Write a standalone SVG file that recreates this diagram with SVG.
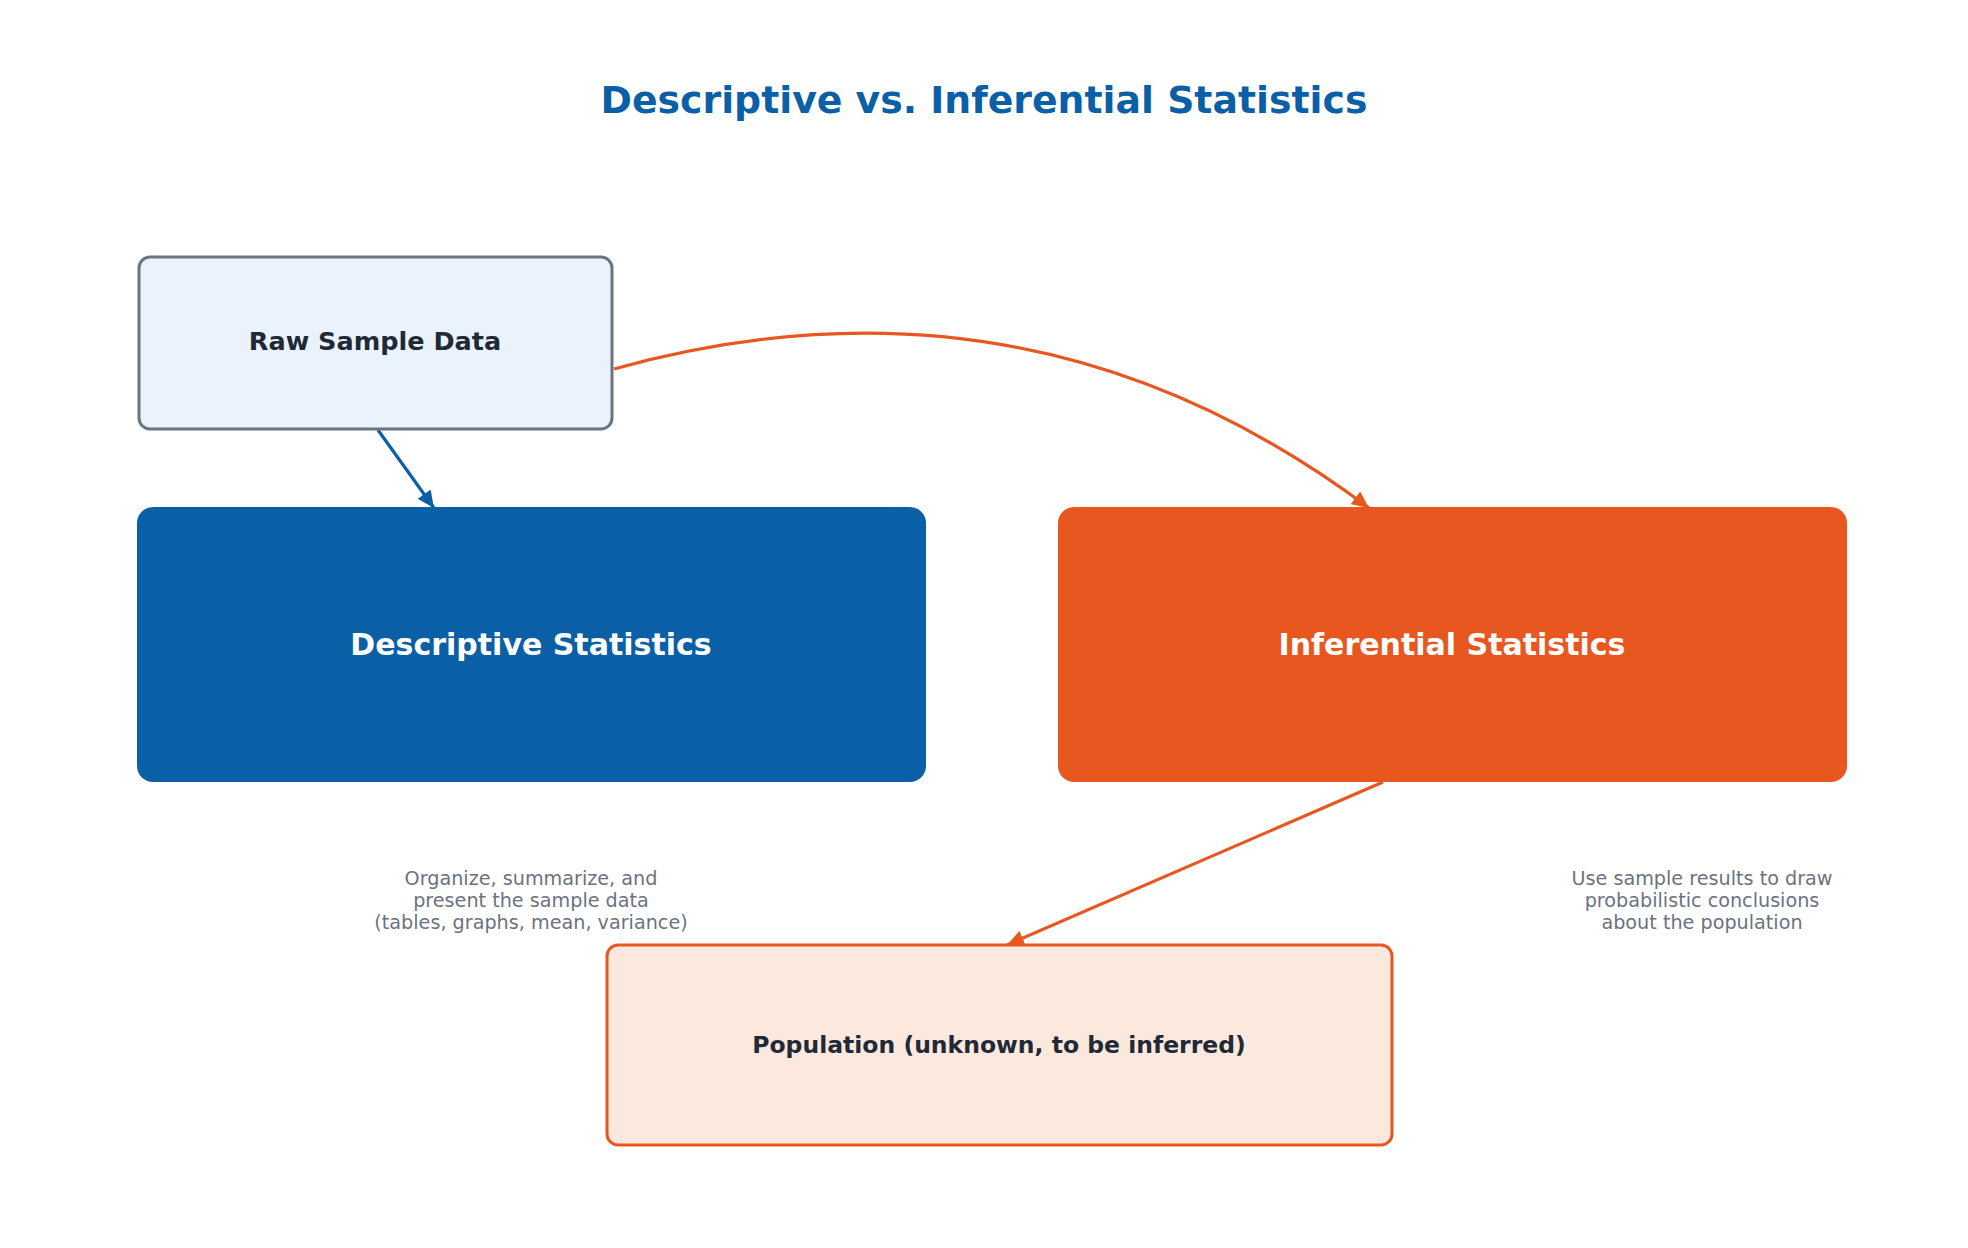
<svg xmlns="http://www.w3.org/2000/svg" width="1968" height="1248" viewBox="0 0 1968 1248">
<style>
.t{font-family:"DejaVu Sans","Liberation Sans",sans-serif;text-anchor:middle}
.title{font-size:37.8px;font-weight:bold;fill:#0b5fa6}
.lbl{font-weight:bold;fill:#1f2937}
.big{font-size:30px;font-weight:bold;fill:#ffffff}
.note{font-size:19.2px;fill:#6b7280}
.blue{stroke:#0b5fa6;stroke-width:3.2;fill:none}
.orange{stroke:#e8571f;stroke-width:3.2;fill:none}
</style>
<defs>
<marker id="ab" markerUnits="userSpaceOnUse" markerWidth="18" markerHeight="16" refX="17" refY="8" orient="auto"><path d="M0,0 L17,8 L0,16 Z" fill="#0b5fa6"/></marker>
<marker id="ao" markerUnits="userSpaceOnUse" markerWidth="18" markerHeight="16" refX="17" refY="8" orient="auto"><path d="M0,0 L17,8 L0,16 Z" fill="#e8571f"/></marker>
</defs>
<rect width="1968" height="1248" fill="#ffffff"/>
<text class="t title" x="984" y="113">Descriptive vs. Inferential Statistics</text>
<g id="connectors">
<path class="blue" d="M378,430 L434,508" marker-end="url(#ab)"/>
<path class="orange" d="M614,369 Q1030,254 1369,508" marker-end="url(#ao)"/>
<path class="orange" d="M1383,782 L1007,945" marker-end="url(#ao)"/>
</g>
<g id="raw">
<rect x="139" y="257" width="473" height="172" rx="11" fill="#eaf2fb" stroke="#6b7280" stroke-width="3"/>
<text class="t lbl" x="375" y="350" font-size="25.5">Raw Sample Data</text>
</g>
<g id="descriptive">
<rect x="137" y="507" width="789" height="275" rx="16" fill="#0b5fa6"/>
<text class="t big" x="531" y="655">Descriptive Statistics</text>
</g>
<g id="inferential">
<rect x="1058" y="507" width="789" height="275" rx="16" fill="#e8571f"/>
<text class="t big" x="1452" y="655">Inferential Statistics</text>
</g>
<g id="population">
<rect x="607" y="945" width="785" height="200" rx="11" fill="#fde8de" stroke="#e8571f" stroke-width="3"/>
<text class="t lbl" x="999" y="1053" font-size="23.5">Population (unknown, to be inferred)</text>
</g>
<g id="note-descriptive">
<text class="t note" x="531" y="885">Organize, summarize, and</text>
<text class="t note" x="531" y="907">present the sample data</text>
<text class="t note" x="531" y="929">(tables, graphs, mean, variance)</text>
</g>
<g id="note-inferential">
<text class="t note" x="1702" y="885">Use sample results to draw</text>
<text class="t note" x="1702" y="907">probabilistic conclusions</text>
<text class="t note" x="1702" y="929">about the population</text>
</g>
</svg>
